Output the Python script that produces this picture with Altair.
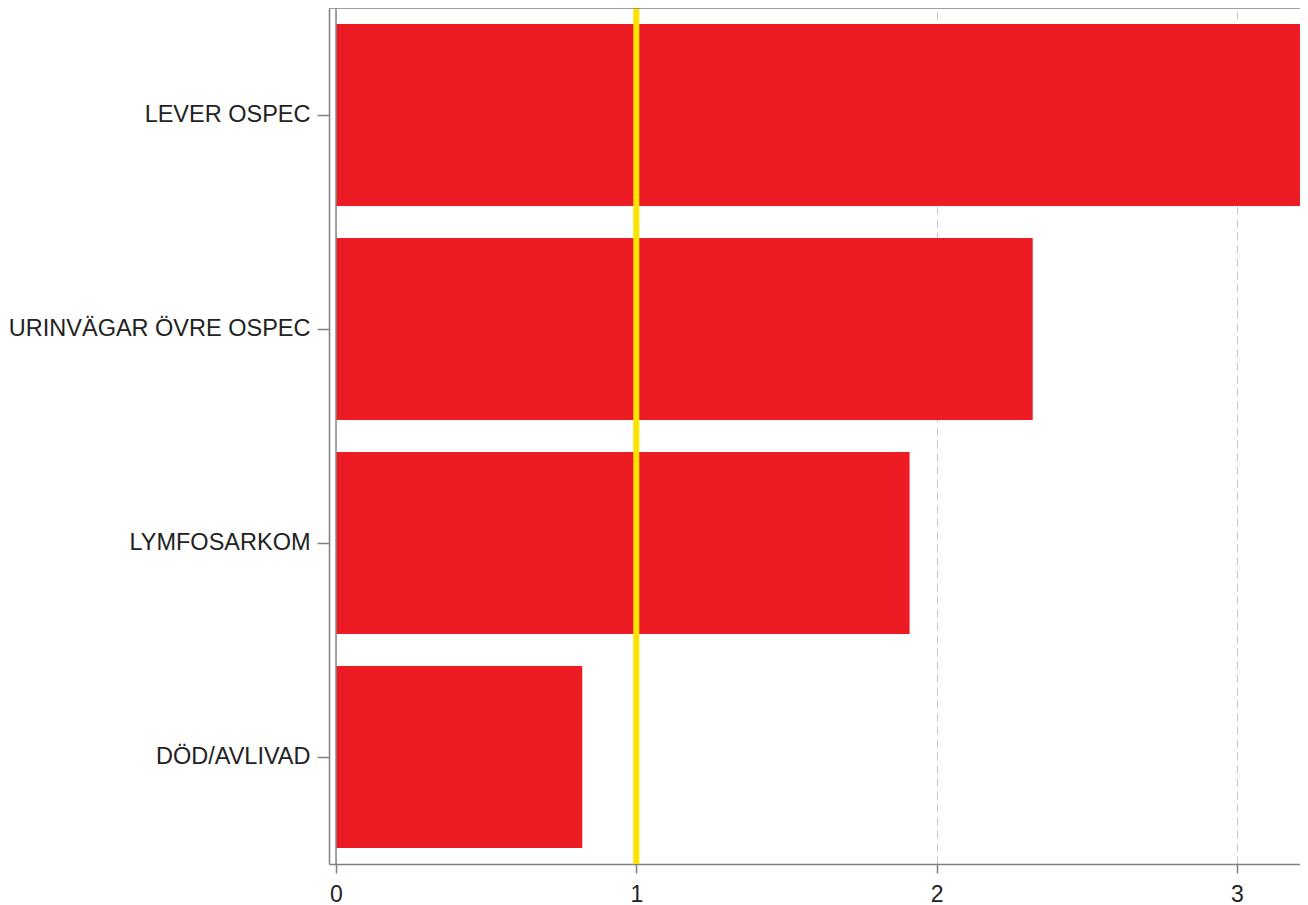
import altair as alt
import pandas as pd

categories = ["LEVER OSPEC", "URINVÄGAR ÖVRE OSPEC", "LYMFOSARKOM", "DÖD/AVLIVAD"]
values = [3.35, 2.32, 1.91, 0.82]
x_ticks = [0, 1, 2, 3]
reference_line = [1]
zero_line = [0]

df = pd.DataFrame({"cat": categories, "val": values})
ref_df = pd.DataFrame({"v": reference_line})
zero_df = pd.DataFrame({"v": zero_line})

FONT = "Liberation Sans"
x_scale = alt.Scale(domain=[-0.0233, 3.21], nice=False, zero=False)

bars = alt.Chart(df).mark_bar(color="#ED1C24", clip=True).encode(
    x=alt.X("val:Q", scale=x_scale, title=None,
            axis=alt.Axis(values=x_ticks, format="d", grid=True, gridDash=[8, 5],
                          gridColor="#c8c8c8", gridWidth=1,
                          domainColor="#808080", domainWidth=1.5,
                          tickColor="#808080", tickSize=9, tickWidth=1.5,
                          labelFont=FONT, labelFontSize=23, labelColor="#222222",
                          labelPadding=10)),
    y=alt.Y("cat:N", sort=None, title=None,
            scale=alt.Scale(paddingInner=0.15, paddingOuter=0.075),
            axis=alt.Axis(domainColor="#808080", domainWidth=1.5,
                          tickColor="#808080", tickSize=12, tickWidth=1.5,
                          labelFont=FONT, labelFontSize=23.5, labelColor="#222222",
                          labelPadding=7, labelLimit=400)),
)

zero_rule = alt.Chart(zero_df).mark_rule(color="#8a8a8a", strokeWidth=1.5).encode(
    x=alt.X("v:Q", scale=x_scale)
)

yellow_rule = alt.Chart(ref_df).mark_rule(color="#FCE300", strokeWidth=6).encode(
    x=alt.X("v:Q", scale=x_scale)
)

top_rule = alt.Chart(zero_df).mark_rule(color="#808080", strokeWidth=1.5).encode(
    y=alt.value(0), x=alt.value(0), x2=alt.value(971)
)

chart = alt.layer(bars, zero_rule, yellow_rule, top_rule).properties(
    width=971, height=856,
    padding={"left": 321, "top": 0, "right": 0, "bottom": 42},
    autosize=alt.AutoSizeParams(type="none"),
).configure_view(stroke=None)

chart.save("out.html", embed_options={"renderer": "svg", "actions": False})
